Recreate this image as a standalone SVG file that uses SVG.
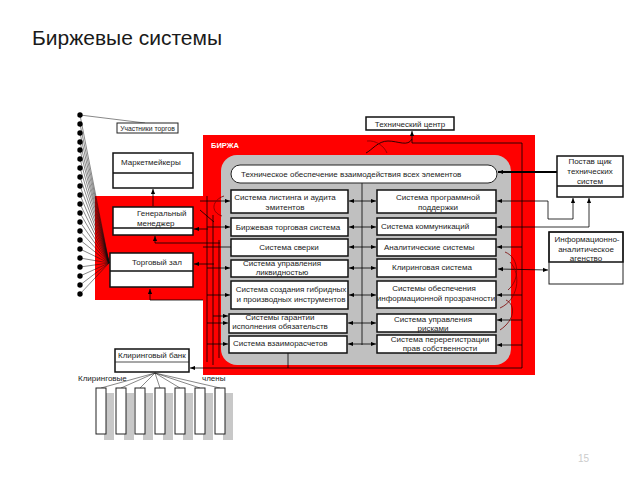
<svg xmlns="http://www.w3.org/2000/svg" width="640" height="480" viewBox="0 0 640 480">
<defs>
<style>
.t{font-family:"Liberation Sans",Arial,sans-serif;font-size:8px;fill:#222}
.c{text-anchor:middle}
.box{fill:#fff;stroke:#111;stroke-width:1.5}
.tbox{fill:#fff;stroke:#222;stroke-width:1}
.ln{stroke:#000;stroke-width:0.8;fill:none}
.dl{stroke:#111;stroke-width:0.5;fill:none}
.dr{stroke:#7a0000;stroke-width:0.8;fill:none}
.a{marker-end:url(#ah)}
.aa{marker-end:url(#ah);marker-start:url(#ah)}
.sh{fill:#c8c8c8}
</style>
<marker id="ah" viewBox="0 0 6 6" refX="6" refY="3" markerUnits="userSpaceOnUse" markerWidth="5" markerHeight="5" orient="auto-start-reverse"><path d="M0,0.5 L6,3 L0,5.5 z" fill="#000"/></marker>
</defs>
<rect width="640" height="480" fill="#fff"/>
<text x="32" y="45" style="font-family:'Liberation Sans',Arial,sans-serif;font-size:21px;fill:#1a1a1a">Биржевые системы</text>
<text x="578" y="462" style="font-family:'Liberation Sans',Arial,sans-serif;font-size:10px;fill:#cccccc">15</text>

<g id="background">
<rect x="95" y="196" width="112" height="104" fill="#f00"/>
<rect x="203" y="135" width="332" height="240" fill="#f00"/>
<rect x="221" y="155" width="290" height="210" rx="16" fill="#c0c0c0"/>
<text x="211" y="148" style="font-family:'Liberation Sans',Arial,sans-serif;font-size:7.5px;font-weight:bold;fill:#fff">БИРЖА</text>
</g>

<g id="connectors">
<path class="dl" d="M80,115 L145,123"/>
<path class="dl" d="M80,124 L109,263 M80,133 L109,263 M80,142 L109,263 M80,150 L109,263 M80,159 L109,263 M80,168 L109,263 M80,177 L109,263 M80,186 L109,263 M80,195 L109,263 M80,204 L109,263 M80,213 L109,263 M80,222 L109,263 M80,231 L109,263 M80,240 L109,263 M80,249 L109,263 M80,258 L109,263 M80,267 L109,263 M80,276 L109,263 M80,285 L109,263 M80,294 L109,263 M80,115 L109,263"/>
<path class="ln a" d="M153,206 L153,189"/>
<path class="ln a" d="M220,243 L155,243 L155,236"/>
<path class="ln a" d="M208,229 L194,229"/>
<path class="ln a" d="M214,264 L194,264"/>
<path class="ln a" d="M203,300 L150,300 L150,289"/>
<path class="ln" d="M207,196 L207,362 M213,215 L213,365 M219,240 L219,358"/>
<path class="ln a" d="M200,201 L230,201"/>
<path class="ln a" d="M207,227 L230,227"/>
<path class="ln" d="M203,247 L231,247"/>
<path class="ln a" d="M207,268 L230,268"/>
<path class="ln a" d="M207,295 L230,295"/>
<path class="ln a" d="M213,316 L228,316"/>
<path class="ln a" d="M207,323 L228,323"/>
<path class="ln a" d="M207,344 L228,344"/>
<path class="ln" d="M200,210 L214,222"/>
<path class="ln" d="M362,183 L362,345"/>
<path class="ln aa" d="M349,201 L376,201"/>
<path class="ln aa" d="M349,227 L376,227"/>
<path class="ln aa" d="M349,247 L376,247"/>
<path class="ln aa" d="M349,268 L376,268"/>
<path class="ln aa" d="M349,295 L376,295"/>
<path class="ln aa" d="M348,323 L376,323"/>
<path class="ln aa" d="M348,344 L376,344"/>
<path class="ln a" d="M412,143 L412,131"/>
<path class="ln" d="M412,143 L522,143 L522,368 L288,368 L288,353"/>
<path class="ln" d="M412,139 C408,147 398,141 388,141 C378,141 372,150 366,153"/>
<path class="ln a" d="M288,368 L190,368"/>
<path d="M557,172 L498,172" stroke="#000" stroke-width="1.8" fill="none" marker-end="url(#ah)"/>
<path class="ln a" d="M573,219 L548,219 L548,201 L497,201"/>
<path class="ln a" d="M573,219 L573,198"/>
<path class="ln a" d="M589,227 L497,227"/>
<path class="ln a" d="M589,227 L589,198"/>
<path class="ln a" d="M522,247 L497,247"/>
<path class="ln aa" d="M498,269 L548,270"/>
<path class="ln a" d="M522,295 L497,295"/>
<path class="ln a" d="M522,320 L497,320"/>
<path class="ln a" d="M522,345 L497,345"/>
<path class="dr" d="M367,141 C376,140 384,146 387,153"/>
<path class="dr" d="M224,196 C212,200 210,212 222,216"/>
<path class="dr" d="M505,252 C520,258 520,280 508,290 M510,262 C522,275 518,300 500,308 M506,300 C516,305 515,320 500,330"/>
<path class="dl" d="M155,373 L101,388 M155,373 L121,388 M155,373 L140,388 M155,373 L160,388 M155,373 L180,388 M155,373 L200,388 M155,373 L220,388"/>
</g>

<g id="dots" fill="#000">
<circle cx="80" cy="115" r="2.7"/><circle cx="80" cy="124" r="2.7"/><circle cx="80" cy="133" r="2.7"/><circle cx="80" cy="142" r="2.7"/><circle cx="80" cy="150" r="2.7"/><circle cx="80" cy="159" r="2.7"/><circle cx="80" cy="168" r="2.7"/><circle cx="80" cy="177" r="2.7"/><circle cx="80" cy="186" r="2.7"/><circle cx="80" cy="195" r="2.7"/><circle cx="80" cy="204" r="2.7"/><circle cx="80" cy="213" r="2.7"/><circle cx="80" cy="222" r="2.7"/><circle cx="80" cy="231" r="2.7"/><circle cx="80" cy="240" r="2.7"/><circle cx="80" cy="249" r="2.7"/><circle cx="80" cy="258" r="2.7"/><circle cx="80" cy="267" r="2.7"/><circle cx="80" cy="276" r="2.7"/><circle cx="80" cy="285" r="2.7"/><circle cx="80" cy="294" r="2.7"/>
</g>

<g id="uchastniki"><rect class="tbox" x="117" y="123" width="61" height="10"/><text class="t c" x="147.5" y="131" style="font-size:6.8px">Участники торгов</text></g>
<g id="marketmakers"><rect class="box" x="113" y="153" width="80" height="35"/><line x1="113" y1="173" x2="193" y2="173" stroke="#111" stroke-width="1.5"/><text class="t" x="121" y="165">Маркетмейкеры</text></g>
<g id="genmanager"><rect class="box" x="113" y="207" width="80" height="28"/><line x1="113" y1="228" x2="193" y2="228" stroke="#111" stroke-width="1.5"/><text class="t" x="137" y="216">Генеральный</text><text class="t" x="137" y="226">менеджер</text></g>
<g id="tradehall"><rect class="box" x="110" y="253" width="83" height="34"/><line x1="110" y1="271" x2="193" y2="271" stroke="#111" stroke-width="1.5"/><text class="t" x="132" y="265">Торговый зал</text></g>
<g id="techcenter"><rect class="box" x="366" y="117" width="88" height="13"/><text class="t c" x="410" y="126.5">Технический центр</text></g>

<g id="techsupport"><rect x="231" y="165" width="266" height="18" rx="9" fill="#fff" stroke="#222" stroke-width="1"/><text class="t" x="241" y="177">Техническое обеспечение взаимодействия всех элементов</text></g>

<g id="listing"><rect class="box" x="231" y="190" width="117" height="23"/><text class="t c" x="285" y="200">Система листинга и аудита</text><text class="t c" x="285" y="210">эмитентов</text></g>
<g id="trading"><rect class="box" x="231" y="218" width="117" height="18"/><text class="t c" x="288" y="230">Биржевая торговая система</text></g>
<g id="sverka"><rect class="box" x="231" y="239" width="117" height="17"/><text class="t c" x="289" y="250">Система сверки</text></g>
<g id="liquidity"><rect class="box" x="231" y="260" width="117" height="17"/><text class="t c" x="282" y="266">Система управления</text><text class="t c" x="282" y="275">ликвидностью</text></g>
<g id="hybrid"><rect class="box" x="231" y="281" width="117" height="28"/><text class="t c" x="291" y="292">Система создания гибридных</text><text class="t c" x="291" y="302">и производных инструментов</text></g>
<g id="guarantee"><rect class="box" x="229" y="314" width="118" height="19"/><text class="t c" x="280" y="320">Системы гарантии</text><text class="t c" x="280" y="329">исполнения обязательств</text></g>
<g id="settlement"><rect class="box" x="229" y="336" width="118" height="17"/><text class="t" x="233" y="346">Система взаиморасчетов</text></g>

<g id="software"><rect class="box" x="377" y="190" width="119" height="23"/><text class="t c" x="438" y="200">Система программной</text><text class="t c" x="438" y="210">поддержки</text></g>
<g id="comms"><rect class="box" x="377" y="218" width="119" height="17"/><text class="t" x="381" y="229">Система коммуникаций</text></g>
<g id="analytics"><rect class="box" x="377" y="239" width="119" height="17"/><text class="t" x="384" y="250">Аналитические системы</text></g>
<g id="clearing"><rect class="box" x="377" y="259" width="119" height="18"/><text class="t" x="392" y="270">Клиринговая система</text></g>
<g id="transparency"><rect class="box" x="377" y="281" width="119" height="27"/><text class="t c" x="434" y="291">Системы обеспечения</text><text class="t c" x="436" y="301">информационной прозрачности</text></g>
<g id="risk"><rect class="box" x="377" y="314" width="119" height="18"/><text class="t c" x="433" y="322">Система управления</text><text class="t c" x="433" y="331">рисками</text></g>
<g id="registry"><rect class="box" x="377" y="335" width="119" height="18"/><text class="t c" x="440" y="342">Система перерегистрации</text><text class="t c" x="440" y="351">прав собственности</text></g>

<g id="supplier"><rect class="box" x="557" y="156" width="66" height="41"/><line x1="557" y1="186" x2="623" y2="186" stroke="#111" stroke-width="1.5"/><text class="t c" x="590" y="164">Постав щик</text><text class="t c" x="590" y="174">технических</text><text class="t c" x="590" y="184">систем</text></g>
<g id="infoagency"><rect class="tbox" x="549" y="232" width="74" height="52"/><path d="M549,262 L549,232 L623,232 L623,262 Z" fill="none" stroke="#111" stroke-width="1.5"/><text class="t c" x="587" y="242">Информационно-</text><text class="t c" x="586" y="252">аналитическое</text><text class="t c" x="586" y="261">агенство</text></g>

<g id="clearingbank"><rect class="box" x="115" y="349" width="74" height="23"/><line x1="115" y1="362" x2="189" y2="362" stroke="#222" stroke-width="0.8"/><text class="t" x="118" y="358">Клиринговый банк</text></g>
<g id="members">
<text class="t" x="78" y="381">Клиринговые</text><text class="t" x="202" y="381">члены</text>
<rect class="sh" x="104" y="393" width="10" height="47"/><rect class="sh" x="124" y="393" width="10" height="47"/><rect class="sh" x="143" y="393" width="10" height="47"/><rect class="sh" x="163" y="393" width="10" height="47"/><rect class="sh" x="183" y="393" width="10" height="47"/><rect class="sh" x="203" y="393" width="10" height="47"/><rect class="sh" x="223" y="393" width="10" height="47"/>
<rect class="tbox" x="96" y="388" width="10" height="46"/><rect class="tbox" x="116" y="388" width="10" height="46"/><rect class="tbox" x="135" y="388" width="10" height="46"/><rect class="tbox" x="155" y="388" width="10" height="46"/><rect class="tbox" x="175" y="388" width="10" height="46"/><rect class="tbox" x="195" y="388" width="10" height="46"/><rect class="tbox" x="215" y="388" width="10" height="46"/>
</g>
</svg>
